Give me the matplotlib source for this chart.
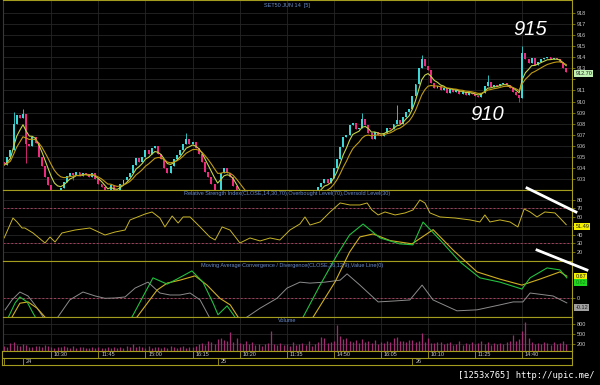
import numpy as np
import pandas as pd
import matplotlib
matplotlib.use("Agg")
import matplotlib.pyplot as plt
from matplotlib.lines import Line2D

# ---- values: SET50 JUN 14, 5 minute bars ----
closes = [
    904.3, 905.0, 905.6, 908.0, 908.8, 908.5, 908.9, 906.2, 906.0, 906.8,
    906.3, 905.0, 904.2, 903.2, 902.5, 901.8, 901.5, 901.9, 902.2, 902.8,
    903.3, 903.6, 903.4, 903.7, 903.3, 903.6, 903.5, 903.2, 903.6, 903.0,
    902.6, 902.3, 901.8, 901.5, 902.5, 901.9, 902.0, 902.6, 902.9, 903.2,
    903.6, 904.3, 904.9, 904.6, 905.0, 905.6, 905.3, 905.8, 906.0, 905.3,
    904.8, 904.0, 903.6, 904.2, 904.8, 905.2, 905.6, 906.2, 906.6, 906.2,
    906.4, 905.8, 905.3, 904.6, 903.7, 903.2, 902.6, 902.0, 901.7, 903.6,
    904.0, 903.6, 903.2, 902.4, 901.6, 901.0, 900.6, 900.3, 900.0, 899.8,
    900.1, 899.7, 899.5, 899.8, 899.6, 899.3, 899.5, 899.8, 900.0, 900.3,
    900.8, 901.0, 900.6, 900.9, 901.3, 901.1, 901.4, 901.6, 901.5, 901.9,
    902.3, 902.7, 903.0, 902.7, 903.1, 904.0, 904.8, 905.9, 906.8, 907.0,
    907.9, 908.1, 907.5, 907.6, 908.4, 907.9, 907.2, 906.6, 907.3, 907.0,
    906.9, 907.2, 907.6, 907.5, 908.0, 908.3, 908.0, 908.6, 909.1, 909.3,
    910.5, 911.6, 913.0, 913.8, 913.2, 912.8, 911.7, 911.2, 911.4, 911.0,
    911.2, 910.8, 911.1, 910.9, 911.0, 910.7, 910.9, 910.6, 910.8, 910.7,
    910.5, 910.4, 910.8, 911.4, 911.8, 911.3, 911.5, 911.4, 911.6, 911.7,
    911.5, 911.2, 910.9, 910.6, 910.3, 914.4, 913.8, 913.5, 913.9, 913.3,
    913.6, 913.8, 913.9, 914.0, 913.8, 913.9, 913.8, 913.6, 913.0, 912.7,
]
first_open = 904.6
hi_bars = [3, 6, 58, 114, 125, 133, 154, 165]
hi_vals = [909.1, 909.3, 907.2, 909.0, 909.7, 914.2, 912.4, 915.0]
lo_bars = [7, 22, 164]
lo_vals = [904.5, 902.9, 910.0]
last_price = 912.70

volume = [
    150, 110, 240, 260, 170, 140, 200, 180, 130, 120,
    160, 140, 110, 180, 150, 120, 90, 130, 110, 150,
    120, 100, 140, 90, 110, 130, 100, 80, 120, 90,
    110, 80, 100, 130, 90, 110, 80, 120, 100, 140,
    130, 210, 110, 150, 120, 100, 160, 90, 110, 130,
    100, 120, 90, 140, 110, 100, 130, 150, 100, 120,
    110, 150, 200, 250, 180, 300, 280, 220, 350, 380,
    320, 300, 560, 260, 380, 250, 220, 300, 200, 260,
    180, 220, 160, 210, 250, 600, 200, 180, 240, 170,
    220, 150, 260, 190, 210, 240, 180, 300, 160, 220,
    260, 420, 380, 250, 280, 300, 780, 460, 350, 380,
    300, 260, 320, 240, 350, 280, 300, 250, 330, 220,
    280, 250, 300, 270, 380, 420, 290, 300, 260, 340,
    320, 280, 300, 540, 260, 400, 250, 230, 280, 260,
    200, 240, 270, 180, 220, 300, 190, 250, 210, 280,
    200, 240, 300, 220, 260, 180, 230, 200, 250, 210,
    280, 300, 480, 300, 350, 600, 870, 400, 280, 220,
    250, 200, 280, 230, 190, 260, 210, 240, 300, 220,
]

rsi_x = [0, 2.8, 4.1, 5.7, 6.6, 9.2, 13, 14.6, 16.2, 18.4,
         22.6, 27.3, 32.1, 35.3, 38.5, 40.1, 44.9, 47.1, 49.6, 51.2,
         53.5, 55.4, 57, 59.2, 62.4, 65.5, 67.2, 69.4, 71.9, 75.1,
         78.3, 81.5, 84.7, 87.8, 91, 94.2, 95.8, 97.4, 100.6, 103.8,
         107, 110.1, 113.3, 115.6, 117.1, 119.1, 121.3, 124.5, 127.7, 130.2,
         132.4, 134, 135.6, 138.8, 143.6, 148.4, 151.5, 153.1, 154.7, 157.9,
         161.1, 163.6, 165.6, 167.5, 169.7, 172.2, 175.4, 177, 179]
rsi_y = [36.3, 59.1, 54.6, 47.7, 47.7, 42.0, 30.6, 37.4, 31.7, 42.0,
         45.4, 47.7, 39.7, 43.1, 45.4, 56.9, 63.7, 66.0, 59.1, 48.9,
         61.4, 53.4, 60.3, 60.3, 48.9, 37.4, 34.0, 48.9, 45.4, 30.6,
         36.3, 32.9, 36.3, 34.0, 45.4, 52.3, 60.3, 51.1, 54.6, 66.0,
         76.3, 74.0, 74.0, 76.3, 68.3, 62.6, 66.0, 62.6, 64.9, 68.3,
         79.7, 76.3, 64.9, 60.3, 59.1, 56.9, 54.6, 62.6, 54.6, 56.9,
         54.6, 48.9, 69.4, 66.0, 60.3, 66.0, 64.9, 59.1, 51.5]
rsi_last = 51.49

macd_x = [0, 1.2, 3.5, 5, 7.3, 9.2, 11, 20, 30, 38,
          40.7, 47.4, 51.9, 55, 59.8, 63.3, 66.5, 68.1, 71, 73,
          75, 85, 93, 95.2, 100.6, 106, 110, 114.3, 119.7, 126,
          130.2, 133.4, 138.8, 145.2, 151.5, 157.9, 164.9, 167.5, 172.9, 177,
          179.2]
macd_y = [-0.9, -0.6, -0.14, 0.04, -0.11, -0.45, -0.75, -1.2, -1.0, -0.75,
          -0.57, 0.62, 0.43, 0.58, 0.83, 0.49, -0.14, -0.5, -0.23, -0.5,
          -0.8, -1.2, -0.9, -0.57, 0.4, 1.31, 1.92, 2.25, 1.83, 1.65,
          1.62, 2.31, 1.77, 1.1, 0.62, 0.49, 0.28, 0.62, 0.92, 0.86,
          0.62]
signal_x = [0, 2.5, 5, 7.6, 10.5, 13, 15, 25, 35, 42.3,
            48.7, 51.9, 56, 60.8, 64.6, 68.7, 72, 74.5, 78, 90,
            98.4, 105.4, 110, 113.3, 117.5, 122.9, 129.9, 136.6, 143, 150.6,
            157.9, 164.9, 170.6, 177, 179.2]
signal_y = [-0.9, -0.57, -0.15, -0.11, -0.3, -0.57, -0.8, -1.1, -1.0, -0.57,
            0.25, 0.46, 0.55, 0.68, 0.4, 0.0, -0.2, -0.57, -0.9, -1.1,
            -0.57, 0.5, 1.4, 1.86, 1.95, 1.75, 1.65, 2.08, 1.46, 0.8,
            0.58, 0.4, 0.58, 0.8, 0.67]
value_x = [0.3, 2.5, 5, 7.6, 9.8, 13, 15, 17.1, 20.9, 25.1,
           29, 32.1, 35.3, 38.5, 41.7, 45.8, 49.6, 52.8, 56, 59.2,
           62.4, 65.5, 70, 77.3, 81.5, 86.9, 90.1, 94.2, 97.4, 102.2,
           107, 109.2, 113.3, 119.1, 124.5, 129.2, 133.1, 136.6, 144.2, 150.6,
           157.9, 162.1, 165.2, 167.5, 174.8, 179.2]
value_y = [-0.35, -0.05, 0.19, 0.07, -0.2, -0.65, -0.8, -0.57, -0.05, 0.19,
           0.07, 0.0, 0.01, 0.04, 0.31, 0.49, 0.16, 0.1, 0.1, 0.16,
           -0.05, -0.6, -0.9, -0.57, -0.3, 0.0, 0.31, 0.49, 0.46, 0.49,
           0.55, 0.74, 0.4, -0.11, -0.08, -0.05, 0.4, -0.05, -0.38, -0.35,
           -0.2, -0.11, -0.11, 0.16, 0.07, -0.14]
macd_last = 0.67
macd_green_last = 0.62
value_last = -0.12

price_ticks = list(range(903, 919))
rsi_ticks = [20, 30, 40, 50, 60, 70, 80]
vol_ticks = [200, 500, 800]
# tick labels hidden behind the value tags
hidden_labels = [912, 50]
time_bars = [15, 30, 45, 60, 75, 90, 105, 120, 135, 150, 165]
time_labels = ['10:30', '11:45', '15:00', '16:15', '10:20', '11:35',
               '14:50', '16:05', '10:10', '11:25', '14:40']
day_bars = [0, 6, 68, 130]
day_labels = ['', '24', '25', '26']

# ---- look ----
W, H = 600, 385
BG = 'black'
FRAME = '#a39c1e'
GRID = '#262626'
LABEL = '#c8c8c8'
TITLE = '#6a8ccc'
UP = '#3ad8d8'
DOWN = '#ec2a80'
XL = (-0.37, 180.84)

plt.rcParams['font.family'] = ['Liberation Sans', 'DejaVu Sans']

fig = plt.figure(figsize=(6, 3.85), dpi=100, facecolor=BG)


def panel(top, bottom, left=3, right=572):
    return fig.add_axes([left / W, 1 - bottom / H, (right - left) / W, (bottom - top) / H])


def style(ax, ylim, yticks):
    ax.set_facecolor(BG)
    ax.set_xlim(*XL)
    ax.set_ylim(*ylim)
    ax.set_xticks(time_bars)
    ax.set_yticks(yticks)
    ax.set_yticklabels(['' if t in hidden_labels else str(t) for t in yticks])
    ax.tick_params(axis='x', length=0, labelbottom=False)
    ax.tick_params(axis='y', left=False, labelleft=False, right=True, labelright=True,
                   length=2, width=0.5, color=FRAME, labelsize=4, labelcolor=LABEL, pad=1.5)
    ax.grid(True, color=GRID, lw=0.6)
    ax.set_axisbelow(True)
    for s in ax.spines.values():
        s.set_color(FRAME)
        s.set_linewidth(0.8)
    ax.spines['left'].set_color('#383838')


def tag(ax, y, text, fc, tc='#202020'):
    ax.text(1.006, y, text, transform=ax.get_yaxis_transform(), fontsize=4, color=tc,
            ha='left', va='center', clip_on=False, zorder=10,
            bbox=dict(boxstyle='square,pad=0.2', fc=fc, ec='none'))


# price panel
ax_p = panel(0, 190)
style(ax_p, (902.04, 919.14), price_ticks)
n = len(closes)
idx = np.arange(n)
c = np.array(closes)
o = np.concatenate([[first_open], c[:-1]])
hi = np.maximum(o, c)
lo = np.minimum(o, c)
for b, v in zip(hi_bars, hi_vals):
    hi[b] = max(hi[b], v)
for b, v in zip(lo_bars, lo_vals):
    lo[b] = min(lo[b], v)
cols = np.where(c >= o, UP, DOWN)
ax_p.vlines(idx, lo, hi, colors=cols, lw=0.6)
ax_p.bar(idx, np.maximum(np.abs(c - o), 0.08), bottom=np.minimum(o, c), width=0.62, color=cols)
fast = pd.Series(c).ewm(span=5, adjust=False).mean()
slow = pd.Series(c).ewm(span=10, adjust=False).mean()
ax_p.plot(idx, fast, color='#c4d448', lw=0.8)
ax_p.plot(idx, slow, color='#c09c14', lw=0.8)
tag(ax_p, last_price - 0.2, f'{last_price:.2f}', '#c0f0b4')
ax_p.text(167.5, 916.44, '915', fontsize=14.5, style='italic', color='white', ha='center', va='center')
ax_p.text(153.8, 908.8, '910', fontsize=14.5, style='italic', color='white', ha='center', va='center')

# RSI panel
ax_r = panel(190, 261)
style(ax_r, (10.0, 91.1), rsi_ticks)
for lvl in (70, 30):
    ax_r.axhline(lvl, color='#a8405c', lw=0.7, ls=(0, (2, 2)))
ax_r.plot(rsi_x, rsi_y, color='#c8b428', lw=0.7)
tag(ax_r, rsi_last - 2.5, f'{rsi_last:.2f}', '#f4f000')

# MACD panel (background) + overlay, the lines run up into the RSI panel
ax_m = panel(261, 317)
style(ax_m, (-0.567, 1.13), [0])
ax_m.axhline(0, color='#a8405c', lw=0.7, ls=(0, (2, 2)))
tag(ax_m, macd_last, f'{macd_last:.2f}', '#f4f000')
tag(ax_m, 0.49, f'{macd_green_last:.2f}', '#20d820', '#108010')
tag(ax_m, value_last - 0.15, f'{value_last:.2f}', '#a0a0a0')

ax_o = panel(190, 317)
ax_o.set_xlim(*XL)
ax_o.set_ylim(-0.567, 3.282)
ax_o.patch.set_alpha(0)
ax_o.axis('off')
ax_o.set_zorder(5)
ax_o.plot(value_x, value_y, color='#8c8c8c', lw=0.7)
ax_o.plot(signal_x, signal_y, color='#d0b020', lw=0.8)
ax_o.plot(macd_x, macd_y, color='#22c040', lw=0.8)

# volume panel
ax_v = panel(317, 351)
style(ax_v, (0, 1020), vol_ticks)
ax_v.vlines(idx, 0, volume, colors='#a02c72', lw=0.9)

# time / date rows
ax_t = panel(351, 365, left=2)
ax_t.set_facecolor(BG)
ax_t.set_xlim(XL[0] - 1 / 3.14, XL[1])
ax_t.set_ylim(0, 2)
ax_t.set_xticks([])
ax_t.set_yticks([])
for s in ax_t.spines.values():
    s.set_color(FRAME)
    s.set_linewidth(0.8)
ax_t.axhline(1, color=FRAME, lw=0.8)
ax_t.vlines(time_bars, 1, 2, color=FRAME, lw=0.6)
ax_t.vlines(day_bars, 0, 1, color=FRAME, lw=0.6)
for b, lab in zip(time_bars, time_labels):
    ax_t.text(b + 0.9, 1.5, lab, fontsize=4, color=LABEL, va='center')
for b, lab in zip(day_bars, day_labels):
    ax_t.text(b + 0.9, 0.5, lab, fontsize=4, color=LABEL, va='center')

# titles
fig.text(287 / W, 1 - 5 / H, 'SET50 JUN 14  [5]', fontsize=4, color=TITLE, ha='center', va='center')
fig.text(287.5 / W, 1 - 194 / H,
         'Relative Strength Index(CLOSE,14,30,70),Overbought Level(70),Oversold Level(30)',
         fontsize=4, color=TITLE, ha='center', va='center', zorder=20)
fig.text(292 / W, 1 - 265 / H,
         'Moving Average Convergence / Divergence(CLOSE,26,12,9),Value Line(0)',
         fontsize=4, color=TITLE, ha='center', va='center', zorder=20)
fig.text(287 / W, 1 - 321 / H, 'Volume', fontsize=4, color=TITLE, ha='center', va='center', zorder=20)

# hand drawn marks
fig.add_artist(Line2D([527 / W, 576 / W], [1 - 188 / H, 1 - 212 / H], color='white', lw=2, zorder=30))
fig.add_artist(Line2D([537 / W, 587 / W], [1 - 250 / H, 1 - 270 / H], color='white', lw=2, zorder=30))

fig.text(595 / W, 1 - 376 / H, '[1253x765] http://upic.me/', fontsize=6.3, color='white',
         family='DejaVu Sans Mono', ha='right', va='center')

fig.savefig('out.png', dpi=100, facecolor=BG)
